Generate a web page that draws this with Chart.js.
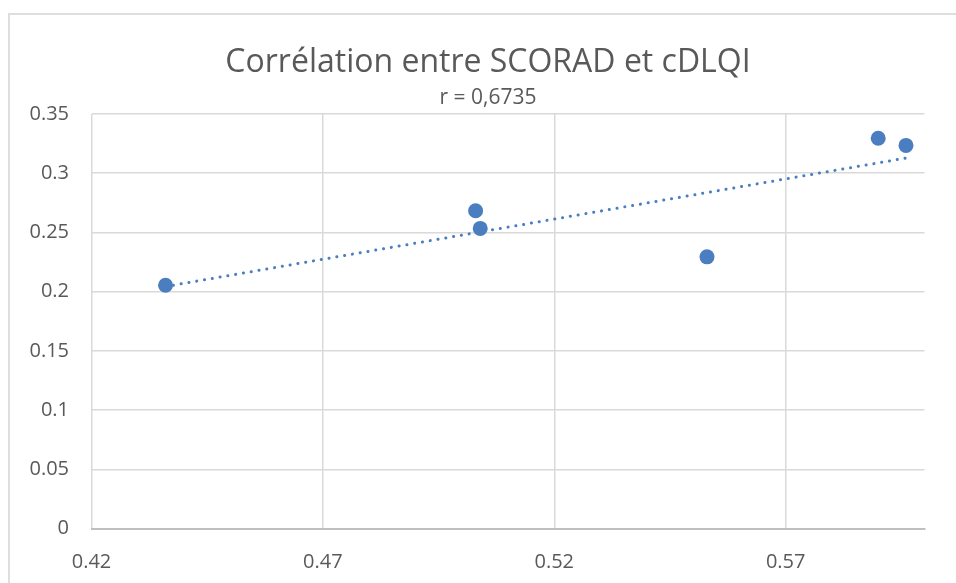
<!DOCTYPE html>
<html>
<head>
<meta charset="utf-8">
<script src="https://cdn.jsdelivr.net/npm/chart.js@4/dist/chart.umd.min.js"></script>
<style>
  html, body { margin: 0; padding: 0; background: #fff; overflow: hidden; width: 956px; height: 583px; }
  .frame { position: absolute; left: 8px; top: 13px; width: 1000px; height: 620px; border: 2px solid #dedede; box-sizing: border-box; }
  #chart { position: absolute; left: 0; top: 0; }
</style>
</head>
<body>
<div class="frame"></div>
<canvas id="chart" width="978" height="600"></canvas>
<script>
const title = "Corrélation entre SCORAD et cDLQI";
const subtitle = "r = 0,6735";

// SCORAD (x) and cDLQI (y)
const scorad = [0.436, 0.503, 0.504, 0.553, 0.590, 0.596];
const cdlqi = [0.2054, 0.2683, 0.2534, 0.2294, 0.3295, 0.3235];

// linear trendline ends
const trendX = [0.436, 0.596];
const trendY = [0.2043, 0.3128];

const xTicks = [0.42, 0.47, 0.52, 0.57];
const xTickLabels = ["0.42", "0.47", "0.52", "0.57"];
const yTicks = [0, 0.05, 0.1, 0.15, 0.2, 0.25, 0.3, 0.35];
const yTickLabels = ["0", "0.05", "0.1", "0.15", "0.2", "0.25", "0.3", "0.35"];

const blue = "#4a7ec0";
const textColor = "#595959";
const gridColor = "#d9d9d9";
const font = "'Open Sans', 'Noto Sans', sans-serif";

const points = scorad.map((x, i) => ({ x: x, y: cdlqi[i] }));
const trend = trendX.map((x, i) => ({ x: x, y: trendY[i] }));

// the original centres its titles a bit right of the canvas middle
const shiftTitles = {
  id: "shiftTitles",
  afterLayout(chart) {
    chart.boxes.forEach((b) => {
      if (b instanceof Chart.Scale) return;
      if (b.position !== "top") return;
      b.left += 25.75;
      b.right += 25.75;
    });
  },
};

const config = {
  type: "scatter",
  data: {
    datasets: [
      {
        data: points,
        backgroundColor: blue,
        borderColor: blue,
        pointRadius: 7.5,
        pointHoverRadius: 7.5,
        borderWidth: 0,
      },
      {
        data: trend,
        showLine: true,
        borderColor: blue,
        borderWidth: 3,
        borderDash: [0.1, 7.8],
        borderCapStyle: "round",
        pointRadius: 0,
        fill: false,
      },
    ],
  },
  options: {
    responsive: false,
    animation: false,
    layout: { padding: { left: 0, right: 53.5, top: 0, bottom: 0 } },
    plugins: {
      legend: { display: false },
      tooltip: { enabled: false },
      title: {
        display: true,
        text: title,
        color: textColor,
        font: { family: font, size: 32, weight: "normal", lineHeight: 1.2 },
        padding: { top: 43.3, bottom: 3.7 },
      },
      subtitle: {
        display: true,
        text: subtitle,
        color: textColor,
        font: { family: font, size: 21, weight: "normal", lineHeight: 1.2 },
        padding: { top: 0, bottom: 3.4 },
      },
    },
    scales: {
      x: {
        type: "linear",
        min: 0.42,
        max: 0.6,
        afterBuildTicks: (s) => { s.ticks = xTicks.map((v) => ({ value: v })); },
        afterFit: (s) => { s.height = 71.5; },
        grid: { color: gridColor, lineWidth: 1.5, drawTicks: false },
        border: { color: "#bfbfbf", width: 2 },
        ticks: {
          color: textColor,
          padding: 22,
          font: { family: font, size: 20 },
          maxRotation: 0,
          callback: (v) => xTickLabels[xTicks.indexOf(v)],
        },
      },
      y: {
        type: "linear",
        min: 0,
        max: 0.35,
        afterBuildTicks: (s) => { s.ticks = yTicks.map((v) => ({ value: v })); },
        afterFit: (s) => { s.width = 91.5; },
        grid: { color: gridColor, lineWidth: 1.5, drawTicks: false },
        border: { display: false },
        ticks: {
          color: textColor,
          padding: 22.5,
          font: { family: font, size: 20 },
          callback: (v) => yTickLabels[yTicks.indexOf(v)],
        },
      },
    },
  },
  plugins: [shiftTitles],
};

new Chart(document.getElementById("chart"), config);
</script>
</body>
</html>
